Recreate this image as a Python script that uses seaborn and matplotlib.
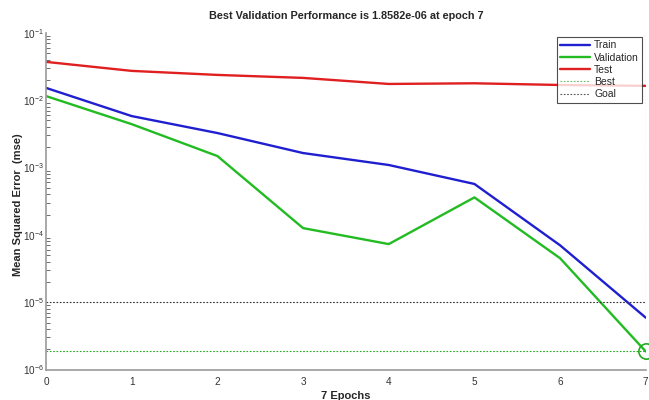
import numpy as np
import pandas as pd
import matplotlib
matplotlib.use("Agg")
import matplotlib.pyplot as plt
import seaborn as sns
from matplotlib.lines import Line2D

# Training record (mse per epoch)
epochs = [0, 1, 2, 3, 4, 5, 6, 7]
train_mse = [0.0152, 0.0058, 0.00325, 0.00164, 0.00109, 0.00057, 7.0e-5, 5.9e-6]
val_mse = [0.0115, 0.0044, 0.00148, 1.26e-4, 7.3e-5, 3.6e-4, 4.5e-5, 1.8582e-6]
test_mse = [0.037, 0.0272, 0.0237, 0.0214, 0.0174, 0.0178, 0.0168, 0.0163]
series_names = ["Train", "Validation", "Test"]
best_epoch = 7
best_perf = 1.8582e-06
goal = 1e-5

sns.set_theme(style="white")
plt.rcParams["font.family"] = ["Liberation Sans", "DejaVu Sans"]
plt.rcParams["mathtext.fontset"] = "custom"
plt.rcParams["mathtext.rm"] = "Liberation Sans"
plt.rcParams["mathtext.it"] = "Liberation Sans"

df = pd.DataFrame({
    "epoch": epochs * 3,
    "mse": train_mse + val_mse + test_mse,
    "set": sum([[n] * len(epochs) for n in series_names], []),
})

fig = plt.figure(figsize=(6.49, 4.0), dpi=100)
ax = fig.add_axes([0.071, 0.076, 0.924, 0.842])

palette = {"Train": "#1f1fd0", "Validation": "#22bb22", "Test": "#e02020"}
sns.lineplot(data=df, x="epoch", y="mse", hue="set", palette=palette,
             linewidth=1.7, ax=ax, legend=False)

ax.set_yscale("log")
ax.set_xlim(0, 7)
ax.set_ylim(1e-6, 1e-1)

# Best / goal reference lines and best-epoch marker
dot = (0, (1.5, 1.5))
ax.axhline(best_perf, color="#22aa22", linestyle=dot, linewidth=0.8)
ax.axvline(best_epoch, color="#22aa22", linestyle=dot, linewidth=0.8)
ax.axhline(goal, color="#333333", linestyle=dot, linewidth=0.8)
ax.plot([best_epoch], [best_perf], marker="o", markersize=11, markerfacecolor="none",
        markeredgecolor="#22aa22", markeredgewidth=1.2, clip_on=False)

# Legend
handles = [
    Line2D([], [], color=palette["Train"], linewidth=1.7),
    Line2D([], [], color=palette["Validation"], linewidth=1.7),
    Line2D([], [], color=palette["Test"], linewidth=1.7),
    Line2D([], [], color="#66bb66", linestyle=dot, linewidth=0.8),
    Line2D([], [], color="#555555", linestyle=dot, linewidth=0.8),
]
leg = ax.legend(handles, series_names + ["Best", "Goal"], loc="upper right",
                bbox_to_anchor=(0.998, 0.995), fontsize=7.5, frameon=True, fancybox=False,
                handlelength=2.9, handletextpad=0.35, labelspacing=0.22,
                borderpad=0.35, borderaxespad=0.2)
leg.get_frame().set_edgecolor("#222222")
leg.get_frame().set_linewidth(0.8)

ax.set_title("Best Validation Performance is 1.8582e-06 at epoch 7",
             fontsize=7.8, fontweight="bold", pad=10)
ax.set_xlabel("7 Epochs", fontsize=8, fontweight="bold")
ax.set_ylabel("Mean Squared Error  (mse)", fontsize=8, fontweight="bold")
ax.xaxis.set_label_coords(0.5, -0.064)
ax.yaxis.set_label_coords(-0.038, 0.49)

ax.set_xticks(epochs)
ax.tick_params(axis="both", which="both", direction="in", colors="#555555",
               labelcolor="#333333", labelsize=7.2)
ax.tick_params(axis="x", which="major", pad=5)
ax.tick_params(axis="y", which="major", pad=1.5)
ax.tick_params(axis="both", which="major", length=5, width=0.8)
ax.tick_params(axis="y", which="minor", length=3, width=0.6, left=True)
ax.tick_params(axis="x", which="minor", bottom=False)

for side in ["top", "right"]:
    ax.spines[side].set_visible(False)
for side in ["left", "bottom"]:
    ax.spines[side].set_color("#999999")
    ax.spines[side].set_linewidth(1.2)

fig.savefig("out.png", dpi=100)
